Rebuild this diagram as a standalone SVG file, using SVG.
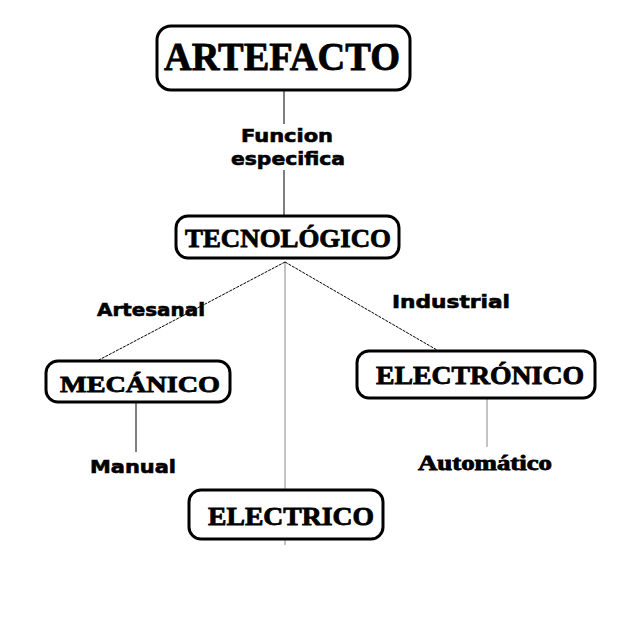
<svg xmlns="http://www.w3.org/2000/svg" width="624" height="640" viewBox="0 0 624 640">
<style>
.box{fill:#fff;stroke:#000;stroke-width:3}
.t{font-family:"Liberation Serif",serif;font-weight:bold;fill:#000;stroke:#000;stroke-width:0.8;text-anchor:middle}
.l{font-family:"DejaVu Sans",sans-serif;font-weight:bold;fill:#000;stroke:#000;stroke-width:0.6;font-size:18px;text-anchor:middle}
.c{stroke:#000;stroke-width:1;fill:none}
.g{stroke:#888;stroke-width:1;fill:none}
</style>
<rect width="624" height="640" fill="#fff"/>
<g id="connectors">
<line class="c" x1="284" y1="90" x2="284" y2="215"/>
<line class="g" x1="285" y1="262" x2="285" y2="545"/>
<line class="c" x1="285" y1="262" x2="97" y2="361" stroke-dasharray="3 1"/>
<line class="c" x1="285" y1="262" x2="437" y2="350" stroke-dasharray="3 1"/>
<line class="c" x1="136" y1="402" x2="136" y2="452"/>
<line class="g" x1="487" y1="398" x2="487" y2="447"/>
</g>
<g id="label-funcion">
<rect x="232" y="124" width="116" height="46" fill="#fff"/>
<text class="l" x="287" y="142" textLength="92" lengthAdjust="spacingAndGlyphs">Funcion</text>
<text class="l" x="288" y="165" textLength="114" lengthAdjust="spacingAndGlyphs">especifica</text>
</g>
<g id="label-artesanal"><text class="l" x="151" y="316" textLength="108" lengthAdjust="spacingAndGlyphs">Artesanal</text></g>
<g id="label-industrial"><text class="l" x="451" y="308" textLength="118" lengthAdjust="spacingAndGlyphs">Industrial</text></g>
<g id="label-manual"><text class="l" x="133" y="473" textLength="86" lengthAdjust="spacingAndGlyphs">Manual</text></g>
<g id="label-automatico"><text class="t" x="485" y="470" style="font-size:20px" textLength="134" lengthAdjust="spacingAndGlyphs">Automático</text></g>
<g id="artefacto">
<rect class="box" x="157" y="26" width="253" height="64" rx="14"/>
<text class="t" x="282" y="70" style="font-size:40px" textLength="236" lengthAdjust="spacingAndGlyphs">ARTEFACTO</text>
</g>
<g id="tecnologico">
<rect class="box" x="176" y="216" width="223" height="42" rx="12"/>
<text class="t" x="288" y="247" style="font-size:26px" textLength="206" lengthAdjust="spacingAndGlyphs">TECNOLÓGICO</text>
</g>
<g id="mecanico">
<rect class="box" x="46" y="361" width="184" height="41" rx="12"/>
<text class="t" x="140" y="392" style="font-size:24px" textLength="160" lengthAdjust="spacingAndGlyphs">MECÁNICO</text>
</g>
<g id="electronico">
<rect class="box" x="357" y="351" width="238" height="47" rx="12"/>
<text class="t" x="480" y="384" style="font-size:25px" textLength="208" lengthAdjust="spacingAndGlyphs">ELECTRÓNICO</text>
</g>
<g id="electrico">
<rect class="box" x="189" y="490" width="194" height="49" rx="12"/>
<text class="t" x="291" y="525" style="font-size:25px" textLength="166" lengthAdjust="spacingAndGlyphs">ELECTRICO</text>
</g>
</svg>
